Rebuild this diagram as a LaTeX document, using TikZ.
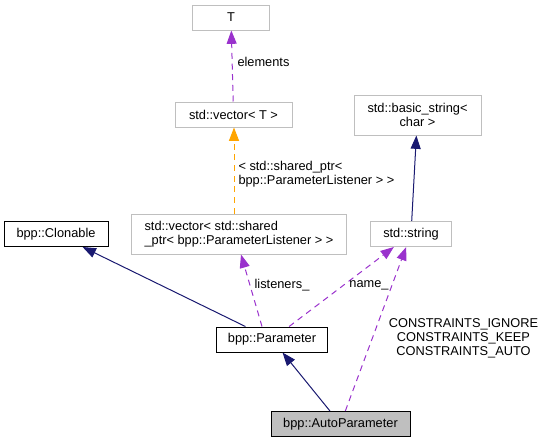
\documentclass[tikz,border=0pt]{standalone}
\usepackage{fontspec}
\setmainfont{Liberation Sans}
\usetikzlibrary{arrows.meta}
\definecolor{navy}{HTML}{191970}
\definecolor{orchid}{HTML}{9A32CD}
\definecolor{tmplorange}{HTML}{FFA500}
\definecolor{boxgray}{HTML}{BFBFBF}

\begin{document}
\begin{tikzpicture}[x=0.75pt,y=-0.75pt,>={Triangle[length=10pt,width=7.5pt]},
  font=\fontsize{9.6}{10.5}\selectfont,line width=0.75pt,
  box/.style={draw=black,minimum height=18.75pt,inner sep=2pt},
  gbox/.style={box,draw=boxgray},
  lbl/.style={inner sep=0pt},
  inh/.style={->,navy},
  use/.style={->,orchid,dash pattern=on 4.5pt off 3.5pt},
  tmpl/.style={->,tmplorange,dash pattern=on 4.5pt off 3.5pt}]
\useasboundingbox (0,0) rectangle (547,443);
% classes
\node[gbox,minimum width=57.75pt] (T) at (231,17.5) {T};
\node[gbox,minimum width=87.75pt] (vecT) at (233.5,114.5) {std::vector< T >};
\node[gbox,minimum width=161.25pt,minimum height=30pt,align=left] (vecSP) at (239,234)
  {std::vector< std::shared\\\_ptr< bpp::ParameterListener > >};
\node[gbox,minimum width=95.25pt,minimum height=30pt,align=center] (bstr) at (417.5,115)
  {std::basic\_string<\\char >};
\node[gbox,minimum width=60.75pt] (str) at (411,234) {std::string};
\node[box,minimum width=78pt] (clon) at (56,234) {bpp::Clonable};
\node[box,minimum width=83.25pt] (param) at (272,339.5) {bpp::Parameter};
\node[box,fill=boxgray,minimum width=104.25pt] (auto) at (340.5,424) {bpp::AutoParameter};
% relations
\draw[use] (vecT) -- (T);
\draw[tmpl] (vecSP.north -| 234,0) -- (vecT.south -| 234,0);
\draw[use] (param.north -| 262,0) -- (vecSP.south -| 241,0);
\draw[use] (param) -- (str);
\draw[use] (auto) -- (str);
\draw[inh] (str) -- (bstr);
\draw[inh] (param) -- (clon);
\draw[inh] (auto) -- (param);
% labels
\node[lbl,anchor=west] (lelem) at (237,62) {elements};
\node[lbl,anchor=west,align=left] (lsp) at (238,174.5)
  {< std::shared\_ptr<\\bpp::ParameterListener > >};
\node[lbl] (llist) at (282,285) {listeners\_};
\node[lbl] (lname) at (369,285) {name\_};
\node[lbl,align=center] (lcons) at (463.5,338)
  {CONSTRAINTS\_IGNORE\\CONSTRAINTS\_KEEP\\CONSTRAINTS\_AUTO};
\end{tikzpicture}
\end{document}
